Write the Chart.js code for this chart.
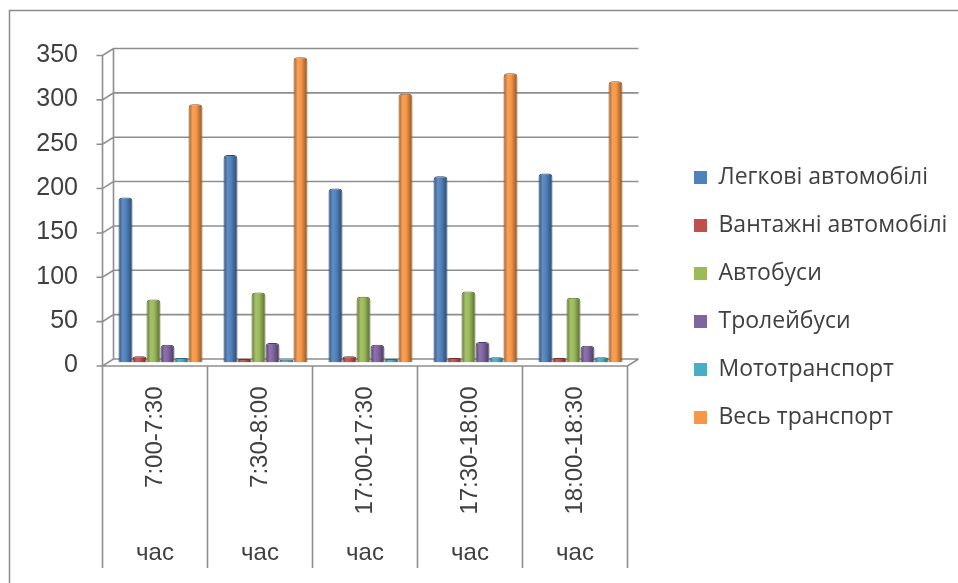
<!DOCTYPE html>
<html>
<head>
<meta charset="utf-8">
<title>Інтенсивність руху транспорту</title>
<script src="https://cdn.jsdelivr.net/npm/chart.js@4.4.1/dist/chart.umd.min.js"></script>
<style>
  html, body { margin: 0; padding: 0; background: #fff; }
  #wrap { width: 958px; height: 583px; }
</style>
</head>
<body>
<div id="wrap"><canvas id="myChart" width="958" height="583"></canvas></div>
<script>
// data
const timeSlots = ["7:00-7:30", "7:30-8:00", "17:00-17:30", "17:30-18:00", "18:00-18:30"];
const unitLabels = ["час", "час", "час", "час", "час"];
const yTickValues = [0, 50, 100, 150, 200, 250, 300, 350];

const seriesNames = [
  "Легкові автомобілі",
  "Вантажні автомобілі",
  "Автобуси",
  "Тролейбуси",
  "Мототранспорт",
  "Весь транспорт",
];
const cars = [186, 234, 196, 210, 213];
const trucks = [7, 4, 7, 5, 5];
const buses = [71, 79, 74, 80, 73];
const trolleybuses = [20, 22, 20, 23, 19];
const motorcycles = [5, 3, 4, 6, 6];
const allTransport = [291, 344, 303, 326, 317];

const seriesValues = [cars, trucks, buses, trolleybuses, motorcycles, allTransport];
const seriesColors = ["#4F81BD", "#C0504D", "#9BBB59", "#8064A2", "#4BACC6", "#F79646"];

const CATEGORY_PCT = 0.8;
const AXIS_FONT = "'Liberation Sans', Arial, sans-serif";
const LEGEND_FONT = "'Open Sans', sans-serif";
const LEGEND_SIZE = 23;
const LEGEND_PAD = 25;
const LEGEND_BOX = 13;
const TEXT = "#404040";
const LINE = "#8e8e8e";
// 3D look: bars sit mid-depth, floor front edge is down-left, back wall up-right
const FRONT_DX = -5.5, FRONT_DY = 3.5, BACK_DX = 5.5, BACK_DY = -3.5;

function mix(hex, amt) {
  const n = parseInt(hex.slice(1), 16);
  let r = n >> 16, g = (n >> 8) & 255, b = n & 255;
  const t = amt < 0 ? 0 : 255, p = Math.abs(amt);
  r = Math.round(r + (t - r) * p);
  g = Math.round(g + (t - g) * p);
  b = Math.round(b + (t - b) * p);
  return "rgb(" + r + "," + g + "," + b + ")";
}

// cylinder shading, worked out from the category scale
function cylinder(context) {
  const base = seriesColors[context.datasetIndex];
  const chart = context.chart;
  const x = chart.scales.x;
  if (context.type !== "data" || !x || !chart.chartArea) return base;
  const band = x.getPixelForValue(1) - x.getPixelForValue(0);
  const group = band * CATEGORY_PCT;
  const w = group / seriesNames.length;
  const left = x.getPixelForValue(context.dataIndex) - group / 2 + context.datasetIndex * w;
  const g = chart.ctx.createLinearGradient(left, 0, left + w, 0);
  g.addColorStop(0, mix(base, -0.38));
  g.addColorStop(0.3, mix(base, 0.1));
  g.addColorStop(0.55, base);
  g.addColorStop(1, mix(base, -0.45));
  return g;
}

const frame3d = {
  id: "frame3d",
  beforeDatasetsDraw(chart) {
    const { ctx, chartArea: a, scales: { y } } = chart;
    const yTop = y.getPixelForValue(y.max);
    const y0 = y.getPixelForValue(0);
    ctx.save();
    ctx.strokeStyle = LINE;
    ctx.lineWidth = 1.6;
    ctx.beginPath();
    y.ticks.forEach((t) => {
      const py = y.getPixelForValue(t.value);
      ctx.moveTo(a.left + FRONT_DX - 6, py + FRONT_DY);
      ctx.lineTo(a.left + FRONT_DX, py + FRONT_DY);
      ctx.lineTo(a.left + BACK_DX, py + BACK_DY);
      ctx.lineTo(a.right + BACK_DX, py + BACK_DY);
    });
    ctx.moveTo(a.left + FRONT_DX, yTop + FRONT_DY);
    ctx.lineTo(a.left + FRONT_DX, y0 + FRONT_DY);
    ctx.lineTo(a.right + FRONT_DX, y0 + FRONT_DY);
    ctx.lineTo(a.right + BACK_DX, y0 + BACK_DY);
    ctx.moveTo(a.left + BACK_DX, yTop + BACK_DY);
    ctx.lineTo(a.left + BACK_DX, y0 + BACK_DY);
    ctx.stroke();
    ctx.restore();
  },
  afterDraw(chart) {
    const { ctx, chartArea: a, scales: { x, y } } = chart;
    const band = x.getPixelForValue(1) - x.getPixelForValue(0);
    const y0 = y.getPixelForValue(0) + FRONT_DY;
    ctx.save();
    ctx.strokeStyle = LINE;
    ctx.lineWidth = 1.6;
    ctx.beginPath();
    for (let i = 0; i <= timeSlots.length; i++) {
      const px = a.left + FRONT_DX + i * band;
      ctx.moveTo(px, y0);
      ctx.lineTo(px, 568);
    }
    ctx.stroke();
    // chart border (cut by the picture at right and bottom)
    ctx.strokeStyle = "#8a8a8a";
    ctx.lineWidth = 1.5;
    ctx.beginPath();
    ctx.moveTo(9.5, 583);
    ctx.lineTo(9.5, 10.5);
    ctx.lineTo(958, 10.5);
    ctx.stroke();
    ctx.restore();
  },
};

const ctx = document.getElementById("myChart").getContext("2d");

// legend needs its full text width, so measure it and put the rest in the right padding
ctx.font = LEGEND_SIZE + "px " + LEGEND_FONT;
const legendTextW = Math.max(...seriesNames.map((s) => ctx.measureText(s).width));
const legendW = LEGEND_PAD + LEGEND_BOX + LEGEND_SIZE / 2 + legendTextW + 12;
const legendLeft = 692 - LEGEND_PAD;
const padRight = Math.max(0, 958 - legendLeft - legendW);
const plotRight = 631;

const myChart = new Chart(ctx, {
  type: "bar",
  data: {
    labels: timeSlots,
    datasets: seriesValues.map((data, i) => ({
      label: seriesNames[i],
      data: data,
      backgroundColor: cylinder,
      borderColor: mix(seriesColors[i], -0.4),
      borderWidth: 1,
      borderSkipped: "bottom",
      borderRadius: { topLeft: 4, topRight: 4 },
      categoryPercentage: CATEGORY_PCT,
      barPercentage: 1,
    })),
  },
  options: {
    responsive: false,
    devicePixelRatio: 1,
    animation: false,
    events: [],
    layout: { padding: { top: 52, right: padRight, bottom: 5, left: 0 } },
    plugins: {
      tooltip: { enabled: false },
      legend: {
        position: "right",
        align: "start",
        maxWidth: 400,
        // empty title only pushes the items down to where they sit in the picture
        title: { display: true, text: "", font: { size: 10 }, padding: { top: 77, bottom: 0 } },
        labels: {
          boxWidth: LEGEND_BOX,
          boxHeight: LEGEND_BOX,
          padding: LEGEND_PAD,
          color: TEXT,
          font: { family: LEGEND_FONT, size: LEGEND_SIZE },
          generateLabels(chart) {
            const items = Chart.defaults.plugins.legend.labels.generateLabels(chart);
            items.forEach((it) => {
              it.fillStyle = seriesColors[it.datasetIndex];
              it.strokeStyle = seriesColors[it.datasetIndex];
              it.lineWidth = 0;
            });
            return items;
          },
        },
      },
    },
    scales: {
      x: {
        position: "bottom",
        grid: { display: false, drawTicks: false },
        border: { display: false },
        ticks: {
          autoSkip: false,
          minRotation: 90,
          maxRotation: 90,
          padding: 24,
          labelOffset: -5.5,
          color: TEXT,
          font: { family: AXIS_FONT, size: 24 },
        },
        afterFit(s) { s.height = 160; },
      },
      x2: {
        type: "category",
        labels: unitLabels,
        position: "bottom",
        offset: true,
        grid: { display: false, drawTicks: false },
        border: { display: false },
        ticks: {
          autoSkip: false,
          maxRotation: 0,
          padding: 16,
          labelOffset: -5.5,
          color: TEXT,
          font: { family: AXIS_FONT, size: 24 },
        },
        afterFit(s) { s.height = 55.5; },
      },
      y: {
        min: 0,
        max: 350,
        grid: { display: false, drawTicks: false },
        border: { display: false },
        afterBuildTicks(s) { s.ticks = yTickValues.map((v) => ({ value: v })); },
        ticks: {
          padding: 30,
          labelOffset: 3,
          color: TEXT,
          font: { family: AXIS_FONT, size: 25 },
        },
        afterFit(s) { s.width = 108; },
      },
      yRight: {
        position: "right",
        grid: { display: false, drawTicks: false },
        border: { display: false },
        ticks: { display: false },
        afterFit(s) { s.width = legendLeft - plotRight; },
      },
    },
  },
  plugins: [frame3d],
});
</script>
</body>
</html>
